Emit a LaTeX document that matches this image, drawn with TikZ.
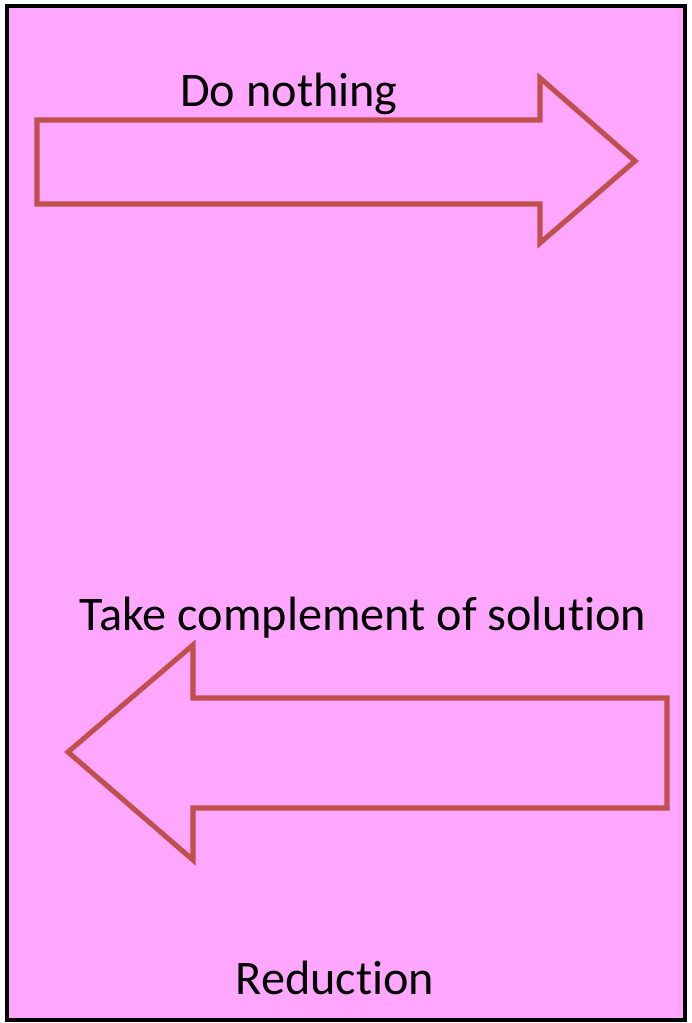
\documentclass[tikz,border=0pt]{standalone}
\usepackage{fontspec}
\setmainfont[Ligatures={NoCommon,NoRare,NoDiscretionary,NoContextual}]{Carlito}
\usepackage{xcolor}
\definecolor{panel}{HTML}{FFA6FF}
\definecolor{arrowline}{HTML}{C0504D}
\usepackage{tikz}
\usetikzlibrary{positioning}

\tikzset{
  bigarrow/.style={draw=arrowline, line width=3.6pt, fill=panel, line join=miter},
  label/.style={font=\fontsize{34.3}{41}\selectfont, text=black, inner sep=0pt}
}

\begin{document}
\begin{tikzpicture}[x=0.025cm, y=-0.025cm]
  \useasboundingbox (0,0) rectangle (691,1023);

  % Panel
  \filldraw[fill=panel, draw=black, line width=2.8pt] (7,6) rectangle (685,1020);

  % Arrow to the right
  \draw[bigarrow] (37,120) -- (540,120) -- (540,78) -- (635,161) -- (540,243)
    -- (540,204) -- (37,204) -- cycle;
  \node[label] (nothing) at (289,94) {Do nothing};

  % Arrow to the left
  \draw[bigarrow] (667,698) -- (193,698) -- (193,645) -- (68,752) -- (193,860)
    -- (193,808) -- (667,808) -- cycle;
  \node[label] (complement) at (363,618) {Take complement of solution};

  \node[label] (reduction) at (335,978) {Reduction};

\end{tikzpicture}
\end{document}
